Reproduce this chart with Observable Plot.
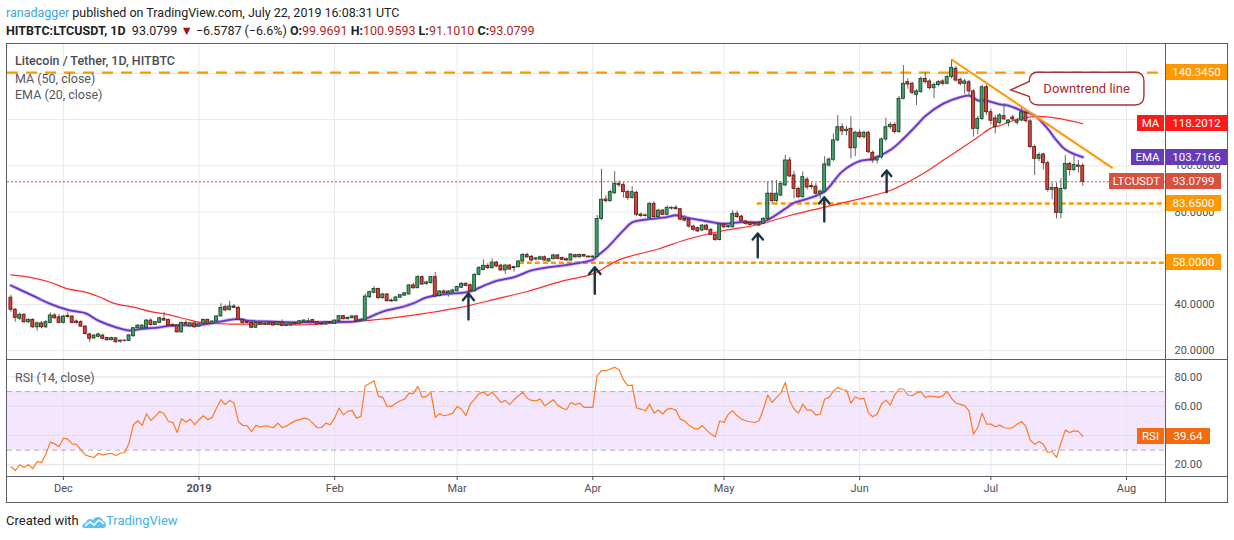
<!DOCTYPE html>
<html><head><meta charset="utf-8">
<script src="https://cdn.jsdelivr.net/npm/d3@7"></script>
<script src="https://cdn.jsdelivr.net/npm/@observablehq/plot@0.6"></script>
<style>
body{margin:0;background:#fff;font-family:Roboto,"Open Sans",sans-serif;}
#wrap{position:relative;width:1234px;height:540px;overflow:hidden;background:#fff;}
.abs{position:absolute;white-space:nowrap;}
.box{position:absolute;height:16px;line-height:16px;font-size:11.5px;color:#fff;text-align:center;font-family:Roboto,sans-serif;}
.ln{position:absolute;background:#5a5d66;}
</style></head><body><div id="wrap"></div>
<script>
// ---- candles (open, high, low, close), daily from 2018-11-19 ----
const nov = [[42.9,44.0,36.6,37.7],[37.7,38.2,32.3,34.2],[33.8,36.2,33.0,35.5],[35.5,36.0,31.8,32.3],[32.3,33.8,31.6,33.3],[33.3,33.8,29.6,30.1],[30.1,32.4,28.4,31.8],[31.8,32.6,29.4,30.1],[30.1,33.0,29.5,32.3],[32.0,36.4,31.6,35.2],[35.2,36.0,33.6,34.0],[34.4,35.6,31.6,32.0]];
const dec = [[32.0,35.3,31.6,34.7],[35.0,36.4,34.0,34.6],[34.7,35.2,31.6,32.0],[32.6,33.2,31.5,32.0],[32.3,33.0,30.0,30.4],[30.4,30.9,26.8,27.2],[27.0,27.6,23.6,25.1],[25.3,27.0,24.8,26.5],[26.0,27.6,25.5,27.0],[26.5,27.0,24.6,25.1],[25.4,25.8,24.1,24.5],[24.5,25.8,24.2,25.4],[25.3,25.6,23.3,23.6],[23.9,24.6,23.1,24.3],[24.3,24.6,23.8,24.2],[24.2,26.9,24.0,26.6],[26.2,30.0,25.9,29.7],[29.7,31.3,28.9,30.8],[29.6,31.2,29.2,30.8],[29.7,33.4,29.4,33.0],[33.0,33.8,30.6,31.1],[31.1,32.6,30.8,32.3],[32.0,34.4,31.8,34.0],[33.7,36.6,32.8,33.0],[33.3,33.6,30.4,30.8],[31.0,31.6,30.0,30.5],[30.8,31.0,27.6,27.9],[27.9,32.4,27.6,32.0],[32.0,33.0,31.0,31.3],[30.5,32.2,30.2,31.8],[31.8,32.0,29.8,30.1]];
const jan = [[30.4,31.9,30.0,31.6],[31.6,33.6,31.2,33.3],[33.3,33.6,31.3,31.6],[31.6,32.9,31.2,32.6],[32.6,35.0,31.6,34.8],[34.8,40.3,34.5,38.5],[38.8,39.6,36.8,37.4],[37.6,41.3,37.0,39.1],[39.1,39.9,38.2,38.5],[38.5,39.2,32.8,33.3],[33.3,33.8,31.5,32.0],[32.4,32.8,31.6,32.0],[32.0,32.3,29.6,29.9],[29.9,32.4,29.7,32.0],[32.0,32.5,30.8,31.2],[31.3,32.0,30.9,31.6],[31.3,32.2,30.8,31.9],[31.9,32.1,30.6,30.9],[31.0,32.6,30.8,32.3],[32.2,33.3,30.4,30.7],[30.7,31.5,30.4,31.3],[30.9,32.2,30.5,31.9],[31.9,32.3,31.2,31.4],[31.6,33.0,31.2,32.7],[32.3,33.3,32.0,33.0],[32.3,34.0,32.0,32.7],[33.2,33.5,32.0,32.3],[32.4,32.6,30.8,31.3],[31.6,31.9,31.0,31.3],[31.3,32.5,31.0,32.2],[32.2,32.6,31.6,31.9]];
const feb = [[31.6,33.3,31.4,33.0],[32.7,35.2,32.5,34.9],[34.9,35.2,33.3,33.6],[33.6,34.5,33.3,34.2],[34.0,35.1,33.8,34.8],[34.8,35.0,32.4,32.7],[32.7,33.7,32.5,33.4],[33.0,44.5,32.8,43.4],[43.1,45.8,42.6,45.3],[45.0,47.7,44.6,46.7],[46.7,47.0,42.2,42.7],[42.7,44.8,42.3,44.3],[44.3,44.6,41.0,41.4],[41.7,42.3,41.0,41.3],[41.4,43.4,41.1,43.0],[42.9,44.3,42.6,44.0],[43.8,45.0,43.4,44.8],[44.3,48.6,44.0,48.2],[48.2,49.2,46.6,47.0],[47.0,52.5,46.8,51.8],[51.8,52.3,48.2,48.6],[48.9,50.0,48.2,49.5],[49.2,52.2,48.8,51.8],[51.8,53.8,42.9,43.4],[43.6,46.0,43.3,45.6],[45.6,46.2,44.5,44.9],[44.9,45.9,43.1,45.6],[45.1,46.6,44.8,46.0]];
const mar = [[45.7,47.9,45.4,47.5],[47.2,49.3,46.9,48.9],[48.9,49.4,47.6,48.0],[48.3,48.8,45.2,45.7],[45.7,53.3,45.4,52.8],[52.8,56.4,52.3,55.7],[54.9,59.3,54.5,56.7],[56.7,57.6,55.0,55.7],[55.7,59.7,55.3,58.1],[58.1,58.6,56.0,56.4],[56.8,57.4,54.2,54.7],[54.7,57.4,53.0,56.8],[56.8,57.2,54.8,55.1],[56.1,56.6,54.0,55.7],[56.1,59.0,55.8,58.6],[58.6,62.0,58.3,61.4],[61.4,62.2,60.0,60.4],[60.6,61.2,58.6,59.0],[59.4,60.4,59.0,59.9],[59.4,60.9,59.0,60.4],[60.4,61.0,58.7,59.0],[58.6,60.0,58.3,59.6],[59.6,61.7,59.3,61.2],[61.2,61.6,59.4,59.7],[60.1,60.5,59.0,59.3],[59.6,60.0,58.7,59.0],[59.0,62.0,58.8,61.6],[61.3,61.7,60.1,60.4],[60.4,61.8,60.2,61.4],[61.4,61.7,60.4,60.7],[60.7,61.0,60.1,60.4]];
const apr = [[60.3,61.0,60.0,60.7],[60.5,78.5,60.2,77.0],[77.0,98.4,76.3,85.3],[85.4,87.0,83.8,84.7],[84.7,89.5,84.2,88.6],[88.1,97.5,87.6,92.2],[92.2,93.5,90.6,91.6],[91.6,92.6,86.0,88.6],[88.6,89.4,85.0,86.1],[86.1,91.0,85.6,88.6],[88.3,89.0,78.0,78.8],[78.9,79.5,77.6,78.3],[78.5,79.2,77.8,78.3],[77.3,84.1,76.5,83.5],[83.5,84.5,77.4,77.8],[77.8,81.2,77.5,80.6],[80.6,81.0,78.4,78.8],[78.8,82.7,78.4,81.8],[81.5,82.2,80.8,81.8],[81.8,82.8,80.8,81.2],[81.2,81.6,76.2,76.7],[77.0,78.4,75.6,76.3],[76.6,77.2,73.0,73.7],[73.7,74.2,71.5,72.3],[73.0,73.4,71.0,71.6],[72.0,74.6,71.5,74.1],[74.1,74.5,71.8,72.3],[72.3,72.8,69.6,70.1],[70.2,70.6,67.3,67.9],[67.9,75.0,67.5,74.6]];
const may = [[74.6,75.2,72.8,73.4],[73.4,74.1,72.9,73.8],[73.4,80.6,73.0,79.2],[79.2,80.4,77.2,77.8],[78.0,78.6,75.6,76.0],[75.9,76.4,74.2,74.9],[75.2,75.8,73.9,74.4],[75.2,75.6,74.0,74.6],[75.2,75.8,73.6,74.2],[74.9,77.6,74.5,77.0],[77.0,92.9,76.7,87.9],[87.9,93.6,83.2,84.7],[84.7,93.6,84.2,87.9],[87.1,92.9,86.6,92.2],[91.5,104.5,91.0,102.3],[102.3,103.5,94.8,95.4],[95.8,97.5,85.7,90.0],[90.0,90.8,85.8,86.4],[86.4,97.3,86.0,95.1],[94.0,95.0,89.5,90.6],[91.2,92.5,89.8,90.8],[91.0,92.3,87.4,87.9],[87.9,89.5,85.5,88.9],[88.6,104.0,88.2,100.6],[100.1,103.4,99.4,102.7],[102.6,113.8,101.8,111.0],[111.0,121.8,110.4,116.7],[116.7,118.2,113.0,114.9],[115.0,117.0,113.0,115.6],[116.0,121.2,103.0,107.6],[107.6,115.0,104.0,114.3]];
const jun = [[114.3,115.5,111.8,112.4],[112.4,115.0,111.5,114.3],[114.3,114.9,105.3,105.9],[105.6,106.5,101.0,102.3],[102.3,104.4,100.8,103.6],[103.6,112.0,102.8,111.4],[111.4,120.6,110.5,116.7],[116.7,118.8,115.8,117.7],[117.7,118.6,113.7,114.6],[114.6,130.0,114.0,129.0],[129.0,143.4,128.5,135.5],[136.2,137.6,133.2,135.2],[135.5,136.2,130.8,131.6],[130.7,133.0,126.1,132.2],[131.9,138.4,131.4,137.6],[137.6,140.4,135.4,136.2],[136.5,137.4,132.8,133.6],[133.6,135.8,129.0,135.0],[135.0,137.0,134.2,136.2],[136.5,137.3,134.6,135.5],[135.5,139.3,135.0,138.4],[138.4,146.0,137.6,142.4],[142.0,143.0,136.2,136.9],[137.2,138.0,134.6,135.5],[135.5,137.5,131.0,136.5],[136.2,137.0,130.4,132.2],[132.2,133.0,112.4,116.0],[116.0,121.5,113.5,120.3],[120.3,135.0,119.5,134.0],[134.0,135.0,121.8,123.2]];
const jul = [[123.2,124.5,117.6,119.5],[120.5,121.8,113.8,116.7],[118.5,122.6,117.8,121.8],[121.5,126.8,119.5,120.1],[118.4,120.0,116.8,119.6],[120.9,121.9,119.4,120.1],[118.6,120.3,117.6,119.6],[119.6,125.4,119.0,123.2],[122.9,123.8,118.5,119.3],[119.2,120.0,107.5,108.1],[108.1,109.0,95.8,103.0],[103.0,105.6,101.8,104.7],[104.9,105.4,98.2,101.1],[101.1,102.0,88.6,89.6],[89.6,92.5,85.3,90.4],[90.4,92.5,77.0,79.6],[79.6,94.4,77.0,90.0],[90.0,104.5,89.4,100.8],[100.8,101.5,95.5,98.2],[98.2,105.2,97.5,100.4],[100.1,102.3,96.8,99.6],[99.9691,100.9593,91.1010,93.0799]];

// ---- MA (50) and EMA (20) ----
const maPoints = [["2018-11-19",52.8],["2018-11-24",51.5],["2018-11-28",49.6],["2018-12-02",46.7],["2018-12-06",45.3],["2018-12-09",43.4],["2018-12-13",40.2],["2018-12-17",38.8],["2018-12-21",36.9],["2018-12-25",35.6],["2018-12-29",33.7],["2019-01-01",32.3],["2019-01-08",31.5],["2019-01-16",31.5],["2019-01-23",31.1],["2019-01-31",31.8],["2019-02-07",32.7],["2019-02-16",34.6],["2019-02-22",36.2],["2019-03-02",38.8],["2019-03-10",42.4],["2019-03-17",45.6],["2019-03-25",50.1],["2019-04-01",53.2],["2019-04-07",59.3],["2019-04-16",64.0],["2019-04-23",68.4],["2019-05-01",72.0],["2019-05-09",74.6],["2019-05-16",78.5],["2019-05-24",82.1],["2019-06-01",85.7],["2019-06-08",89.3],["2019-06-12",92.9],["2019-06-16",97.2],["2019-06-20",102.3],["2019-06-24",107.3],["2019-06-28",112.4],["2019-07-01",116.3],["2019-07-03",117.4],["2019-07-05",118.9],["2019-07-08",120.6],["2019-07-12",121.4],["2019-07-16",120.6],["2019-07-22",118.2012]];
const emaPoints = [["2018-11-19",48.2],["2018-11-24",43.8],["2018-11-28",40.2],["2018-12-02",37.6],["2018-12-06",36.2],["2018-12-09",33.0],["2018-12-13",30.1],["2018-12-16",28.7],["2018-12-19",29.4],["2018-12-23",30.1],["2018-12-26",30.9],["2018-12-30",30.9],["2019-01-01",31.0],["2019-01-04",31.9],["2019-01-08",33.3],["2019-01-10",33.7],["2019-01-12",33.0],["2019-01-16",32.6],["2019-01-23",32.2],["2019-01-31",32.4],["2019-02-06",32.7],["2019-02-08",33.7],["2019-02-12",36.9],["2019-02-17",39.2],["2019-02-19",40.5],["2019-02-22",43.0],["2019-02-26",44.4],["2019-03-02",45.0],["2019-03-04",45.6],["2019-03-07",48.0],["2019-03-10",50.2],["2019-03-14",51.8],["2019-03-18",54.7],["2019-03-22",56.1],["2019-03-25",56.8],["2019-03-29",58.0],["2019-04-01",59.3],["2019-04-02",61.0],["2019-04-04",64.0],["2019-04-08",72.0],["2019-04-10",75.5],["2019-04-13",76.7],["2019-04-18",77.8],["2019-04-20",78.6],["2019-04-23",77.3],["2019-04-27",76.0],["2019-05-01",74.9],["2019-05-05",75.6],["2019-05-09",75.6],["2019-05-11",76.6],["2019-05-15",81.4],["2019-05-17",84.0],["2019-05-20",85.7],["2019-05-24",88.9],["2019-05-28",97.5],["2019-06-01",102.0],["2019-06-04",103.0],["2019-06-08",106.8],["2019-06-11",111.7],["2019-06-14",117.5],["2019-06-16",121.5],["2019-06-20",126.8],["2019-06-24",129.7],["2019-06-26",130.4],["2019-06-27",129.5],["2019-06-28",128.3],["2019-06-30",128.2],["2019-07-03",126.6],["2019-07-05",126.1],["2019-07-08",123.9],["2019-07-11",121.8],["2019-07-14",116.0],["2019-07-16",111.0],["2019-07-18",107.1],["2019-07-22",103.7166]];

// ---- RSI (14), daily from 2018-11-19 ----
const rsiValues = [
18.8,16.1,20.0,18.1,20.0,17.4,22.2,21.5,27.3,35.5,
34.3,32.5,38.2,37.5,34.3,33.9,30.2,26.8,25.7,25.0,
27.9,26.8,27.5,27.9,26.3,27.9,28.4,34.8,47.4,50.1,
46.9,54.9,50.3,53.1,56.5,54.9,49.6,49.0,42.1,51.5,
49.2,51.2,47.4,50.8,53.5,50.8,52.4,58.8,64.5,61.1,
64.0,62.2,49.6,46.9,46.7,42.6,46.9,45.8,46.7,46.2,
45.3,48.5,45.5,46.4,48.5,50.0,51.0,51.9,51.2,48.5,
45.3,45.5,48.5,47.4,51.9,58.8,54.2,56.5,57.2,51.9,
53.1,74.0,75.5,77.5,66.8,66.1,59.9,59.9,62.2,63.8,
64.9,69.0,68.6,73.6,66.3,66.8,69.5,52.4,54.9,53.5,
54.2,55.3,59.9,58.1,53.5,61.5,64.9,68.6,69.7,67.2,
69.7,66.3,62.6,64.0,61.1,64.5,67.2,69.5,65.5,64.0,
63.8,64.9,60.4,62.2,64.5,60.6,58.8,57.6,62.6,61.1,
62.2,59.2,59.2,59.2,80.9,84.3,84.3,85.5,86.6,85.0,
78.2,74.1,74.5,58.8,58.1,56.9,61.5,55.3,57.4,54.7,
58.1,58.5,57.4,51.2,49.9,47.1,45.1,44.4,46.7,43.9,
41.0,39.1,49.9,49.0,54.7,56.9,53.5,51.2,50.1,49.4,
48.9,50.1,58.1,67.7,62.6,66.1,69.0,76.3,63.8,58.1,
55.3,61.5,57.4,57.4,54.0,54.7,64.9,66.1,70.4,72.9,
71.3,71.1,62.2,66.5,64.9,65.4,55.3,52.8,54.7,61.5,
64.2,60.8,67.7,71.8,71.8,67.7,67.2,69.0,70.0,66.1,
67.0,66.8,66.1,67.2,70.2,65.4,62.2,61.3,60.4,56.9,
41.0,45.5,55.3,47.8,47.8,46.0,47.1,45.5,44.8,45.5,
47.8,49.6,46.2,36.8,34.1,35.9,34.1,28.4,29.1,25.0,
34.8,43.7,42.1,43.2,42.8,39.64];

// ---- annotations ----
const levels = [
  {name:"resistance", y:140.345, from:"2018-11-18T05:20Z"},
  {name:"support1", y:83.65, from:"2019-05-08T14:00Z"},
  {name:"support2", y:58.0, from:"2019-03-15T05:00Z"}
];
const lastPrice = 93.0799;
const trendLine = [{x1:"2019-06-22T00:00Z", y1:146.0, x2:"2019-07-28T20:00Z", y2:99.0}];
const arrows = [
  {date:"2019-03-03T14:00Z", from:33.5, to:44.7},
  {date:"2019-04-01T11:00Z", from:44.6, to:56.1},
  {date:"2019-05-08T17:00Z", from:60.4, to:70.7},
  {date:"2019-05-23T22:00Z", from:75.9, to:86.4},
  {date:"2019-06-07T04:00Z", from:88.6, to:98.0}
];
const callout = {date:"2019-07-05T15:00Z", price:132.6, text:"Downtrend line"};
const priceGrid = [20,40,60,80,100,120,140];
const priceLabels = [20,40,80,100];   // 60, 120, 140 sit under the level boxes
const rsiTicks = [20,40,60,80];
const monthTicks = ["2018-12-01","2019-01-01","2019-02-01","2019-03-01","2019-04-01","2019-05-01","2019-06-01","2019-07-01","2019-08-01"].map(s=>new Date(s+"T00:00Z"));
const xDomain = [new Date("2018-11-18T05:20Z"), new Date("2019-08-09T21:50Z")];

// ---- build tables ----
const DAY = 864e5, start = Date.UTC(2018,10,19);
const candles = [nov,dec,jan,feb,mar,apr,may,jun,jul].flat().map((r,i)=>({date:new Date(start+i*DAY),open:r[0],high:r[1],low:r[2],close:r[3]}));
const rsi = rsiValues.map((v,i)=>({date:new Date(start+i*DAY),v}));
const ma = maPoints.map(([d,v])=>({date:new Date(d+"T00:00Z"),v}));
const ema = emaPoints.map(([d,v])=>({date:new Date(d+"T00:00Z"),v}));
const half = 8*3600e3;
const up = d=>d.close>=d.open;

const wrap = document.getElementById("wrap");
const FONT = "Roboto, 'Open Sans', sans-serif";

const main = Plot.plot({
  width:1234, height:316, marginLeft:7, marginRight:69, marginTop:0, marginBottom:0,
  style:{background:"transparent", color:"#4d4f56", fontFamily:FONT, fontSize:"11px", overflow:"visible"},
  x:{type:"utc", domain:xDomain, axis:null},
  y:{domain:[16.15,152.94], axis:"right", ticks:priceLabels, tickFormat:d=>d.toFixed(4), tickSize:0, tickPadding:9, label:null},
  marks:[
    Plot.ruleX(monthTicks,{stroke:"#e9e9ea"}),
    Plot.ruleY(priceGrid,{stroke:"#e9e9ea"}),
    Plot.ruleY([lastPrice],{stroke:"#e0463a", strokeWidth:1, strokeDasharray:"2,2"}),
    Plot.ruleY(levels.slice(1),{y:"y", x1:d=>new Date(d.from), x2:()=>xDomain[1], stroke:"#ff9800", strokeWidth:2.6, strokeDasharray:"5,3"}),
    Plot.ruleY(levels.slice(0,1),{y:"y", stroke:"#ff9800", strokeWidth:2.2, strokeDasharray:"11,8"}),
    Plot.line(ma,{x:"date", y:"v", stroke:"#ff2b2b", strokeWidth:1.2, curve:"catmull-rom"}),
    Plot.line(ema,{x:"date", y:"v", stroke:"#9a6be0", strokeWidth:3.6, strokeOpacity:0.45, curve:"catmull-rom"}),
    Plot.line(ema,{x:"date", y:"v", stroke:"#6a35c9", strokeWidth:1.8, curve:"catmull-rom"}),
    Plot.ruleX(candles,{x:"date", y1:"low", y2:"high", stroke:"#666", strokeWidth:1}),
    Plot.rect(candles,{x1:d=>new Date(+d.date-half), x2:d=>new Date(+d.date+half), y1:"open", y2:"close",
      fill:d=>up(d)?"#44a06a":"#d2453a", stroke:d=>up(d)?"#1c4a2e":"#6a1a14", strokeWidth:0.9}),
    Plot.link(trendLine,{x1:d=>new Date(d.x1), y1:"y1", x2:d=>new Date(d.x2), y2:"y2", stroke:"#ff9800", strokeWidth:2}),
    Plot.arrow(arrows,{x1:d=>new Date(d.date), x2:d=>new Date(d.date), y1:"from", y2:"to", stroke:"#1d3440", strokeWidth:2.4, headLength:9, headAngle:80})
  ]
});
main.style.position="absolute"; main.style.left="0px"; main.style.top="43px"; main.style.display="block";
wrap.appendChild(main);

const rsiPlot = Plot.plot({
  width:1234, height:144, marginLeft:7, marginRight:69, marginTop:0, marginBottom:27,
  style:{background:"transparent", color:"#4d4f56", fontFamily:FONT, fontSize:"11px", overflow:"visible"},
  x:{type:"utc", domain:xDomain, axis:"bottom", ticks:monthTicks, tickFormat:d=>d.getUTCMonth()===0?"":d3.utcFormat("%b")(d), tickSize:4, tickPadding:4, label:null},
  y:{domain:[12.0,91.96], axis:"right", ticks:[20,60,80], tickFormat:d=>d.toFixed(2), tickSize:0, tickPadding:9, label:null},
  marks:[
    Plot.rect([{a:30,b:70}],{y1:"a", y2:"b", fill:"#f3e6fd"}),
    Plot.ruleX(monthTicks,{stroke:"#e6e3ea"}),
    Plot.ruleY(rsiTicks,{stroke:"#e2dde6"}),
    Plot.ruleY([30,70],{stroke:"#b2abb6", strokeDasharray:"5,4"}),
    Plot.line(rsi,{x:"date", y:"v", stroke:"#ff7a22", strokeWidth:1.2}),
    Plot.text(monthTicks.filter(d=>d.getUTCMonth()===0),{x:d=>d, frameAnchor:"bottom", dy:15, text:d=>String(d.getUTCFullYear()), fontWeight:"bold", fill:"#4d4f56", fontSize:11})
  ]
});
rsiPlot.style.position="absolute"; rsiPlot.style.left="0px"; rsiPlot.style.top="359px"; rsiPlot.style.display="block";
wrap.appendChild(rsiPlot);

function scaleFn(chart,name){
  const s = chart.scale(name);
  if (s && typeof s.apply==="function") return v=>s.apply(v);
  return (s.type==="utc"||s.type==="time"?d3.scaleUtc():d3.scaleLinear()).domain(s.domain).range(s.range);
}
const mx = scaleFn(main,"x"), my = scaleFn(main,"y"), ry = scaleFn(rsiPlot,"y");

function add(html){ wrap.insertAdjacentHTML("beforeend", html); }
function line(l,t,w,h){ add(`<div class="ln" style="left:${l}px;top:${t}px;width:${w}px;height:${h}px"></div>`); }
// frame
line(6,43,1222,1); line(6,502,1222,1); line(6,43,1,460); line(1227,43,1,460);
line(6,359,1222,1); line(6,476,1222,1); line(1165,43,1,460);

function box(left,width,yc,bg,text){ add(`<div class="box" style="left:${left}px;width:${width}px;top:${(yc-8).toFixed(1)}px;background:${bg}">${text}</div>`); }
const Y = v=>my(v)+43, RY = v=>ry(v)+359;
box(1166,61,Y(140.345),"#ff9800","140.3450");
box(1137,27,Y(118.2012),"#ff1a1a","MA"); box(1166,61,Y(118.2012),"#ff1a1a","118.2012");
box(1131,33,Y(103.7166),"#673ab7","EMA"); box(1166,61,Y(103.7166),"#673ab7","103.7166");
box(1109,55,Y(lastPrice),"#d9503f","LTCUSDT"); box(1166,55,Y(lastPrice),"#d9503f","93.0799");
box(1166,55,Y(83.65),"#ff9800","83.6500");
box(1166,55,Y(58.0),"#ff9800","58.0000");
box(1137,27,RY(39.64),"#f5690f","RSI"); box(1166,44,RY(39.64),"#f5690f","39.64");

// callout
{
  const tx = mx(new Date(callout.date)), ty = my(callout.price)+43;
  const L=tx+18.6, R=tx+133.3, T=ty-17.7, B=ty+15, r=9, p1=ty-8.5, p2=ty+6.5;
  const d=`M${L+r},${T}H${R-r}Q${R},${T} ${R},${T+r}V${B-r}Q${R},${B} ${R-r},${B}H${L+r}Q${L},${B} ${L},${B-r}V${p2}L${tx},${ty}L${L},${p1}V${T+r}Q${L},${T} ${L+r},${T}Z`;
  add(`<svg class="abs" style="left:0;top:0" width="1234" height="540"><path d="${d}" fill="#fff" stroke="#a83434" stroke-width="1.4"/><text x="${(L+R)/2}" y="${(T+B)/2}" text-anchor="middle" dominant-baseline="central" fill="#a52a2a" font-family="Roboto, sans-serif" font-size="13">${callout.text}</text></svg>`);
}

// texts
add(`<div class="abs" style="left:6px;top:5px;font-size:12.5px;color:#222"><span style="color:#3aa6dd">ranadagger</span> published on TradingView.com, July 22, 2019 16:08:31 UTC</div>`);
add(`<div class="abs" style="left:6px;top:23px;font-size:12.5px;color:#222"><b>HITBTC:LTCUSDT, 1D</b>&nbsp; 93.0799 <span style="color:#8e1b1b">▼</span> −6.5787 (−6.6%) <b>O:</b><span style="color:#b21f1f">99.9691</span> <b>H:</b><span style="color:#b21f1f">100.9593</span> <b>L:</b><span style="color:#b21f1f">91.1010</span> <b>C:</b><span style="color:#b21f1f">93.0799</span></div>`);
add(`<div class="abs" style="left:15px;top:53px;font-size:12.5px;color:#4a4c52;font-weight:500">Litecoin / Tether, 1D, HITBTC</div>`);
add(`<div class="abs" style="left:15px;top:71px;font-size:12.5px;color:#55575e">MA (50, close)</div>`);
add(`<div class="abs" style="left:15px;top:87px;font-size:12.5px;color:#55575e">EMA (20, close)</div>`);
add(`<div class="abs" style="left:15px;top:370px;font-size:12.5px;color:#55575e">RSI (14, close)</div>`);
add(`<div class="abs" style="left:6px;top:513px;font-size:13px;color:#222">Created with</div>`);
add(`<svg class="abs" style="left:82px;top:514px" width="24" height="16"><path d="M2,14 C-1,14 0,9 4,9 C4,5 9,4 11,6 C13,2 20,2 21,7 C25,8 25,14 21,14 Z" fill="#5ec0ec"/><path d="M3,12 L8,8 L12,11 L17,6 L22,10" fill="none" stroke="#fff" stroke-width="1.6"/></svg>`);
add(`<div class="abs" style="left:106px;top:513px;font-size:13px;color:#45b0e5">TradingView</div>`);
</script></body></html>
